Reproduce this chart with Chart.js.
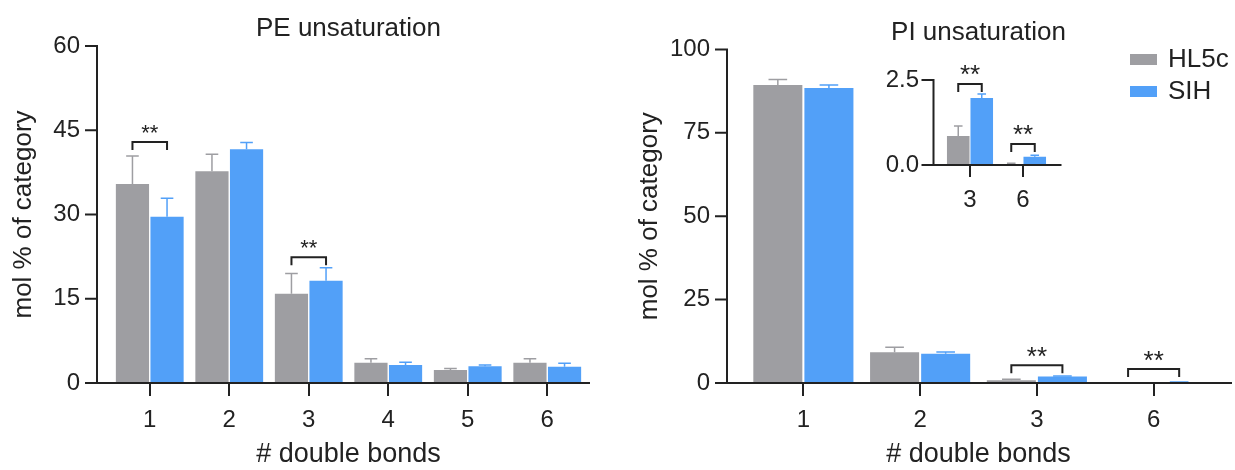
<!DOCTYPE html>
<html>
<head>
<meta charset="utf-8">
<script src="https://cdn.jsdelivr.net/npm/chart.js@4.4.1/dist/chart.umd.min.js"></script>
<style>
  body { margin: 0; background: #fff; }
  #wrap { position: relative; width: 1235px; height: 470px; overflow: hidden; }
  canvas { position: absolute; }
</style>
</head>
<body>
<div id="wrap">
  <canvas id="pe" width="615" height="470" style="left:0;top:0"></canvas>
  <canvas id="pi" width="620" height="470" style="left:615px;top:0"></canvas>
  <canvas id="inset" width="220" height="190" style="left:860px;top:40px"></canvas>
</div>
<script>
// PE unsaturation
const peLabels = ['1', '2', '3', '4', '5', '6'];
const peHL5c = [35.4, 37.7, 15.9, 3.6, 2.3, 3.6];
const peHL5cErr = [5.0, 3.0, 3.6, 0.7, 0.3, 0.7];
const peSIH = [29.6, 41.6, 18.2, 3.2, 3.0, 2.9];
const peSIHErr = [3.3, 1.2, 2.3, 0.5, 0.2, 0.6];
const peTicks = [0, 15, 30, 45, 60];
const peSigLabels = ['1', '3'];
const peSigLevels = [42.9, 22.4];

// PI unsaturation
const piLabels = ['1', '2', '3', '6'];
const piHL5c = [89.3, 9.2, 0.85, 0.03];
const piHL5cErr = [1.7, 1.5, 0.3, 0.02];
const piSIH = [88.4, 8.8, 1.97, 0.24];
const piSIHErr = [0.9, 0.5, 0.12, 0.05];
const piTicks = [0, 25, 50, 75, 100];
const piSigLabels = ['3', '6'];
const piSigLevels = [5.3, 4.2];

// inset (zoom on 3 and 6)
const insetLabels = ['3', '6'];
const insetTicks = [0, 2.5];
const insetSigLevels = [2.38, 0.62];

const GRAY = '#9e9ea2';
const BLUE = '#52a0f8';
const INK = '#222';
const FONT = '"Liberation Sans", Arial, sans-serif';

Chart.defaults.font.family = FONT;
Chart.defaults.color = INK;

// axis lines, error bars, significance brackets, legend
const marks = {
  id: 'marks',
  afterDatasetsDraw(chart, args, o) {
    const {ctx, chartArea: a, scales: {x, y}} = chart;
    const ax = a.left - o.gapLeft;
    const y0 = y.getPixelForValue(0);
    ctx.save();

    // error bars (upper only)
    chart.data.datasets.forEach((ds, i) => {
      ctx.strokeStyle = ds.backgroundColor;
      ctx.lineWidth = 1.5;
      chart.getDatasetMeta(i).data.forEach((bar, j) => {
        const top = y.getPixelForValue(ds.data[j] + ds.errors[j]);
        const cap = bar.width * 0.38;
        ctx.beginPath();
        ctx.moveTo(bar.x, bar.y);
        ctx.lineTo(bar.x, top);
        ctx.moveTo(bar.x - cap / 2, top);
        ctx.lineTo(bar.x + cap / 2, top);
        ctx.stroke();
      });
    });

    // axes
    ctx.strokeStyle = INK;
    ctx.lineWidth = 2;
    ctx.beginPath();
    ctx.moveTo(ax, y.getPixelForValue(y.max) - 1);
    ctx.lineTo(ax, y0);
    ctx.moveTo(ax, y0);
    ctx.lineTo(a.right + o.extendRight, y0);
    y.ticks.forEach(t => {
      const py = y.getPixelForValue(t.value);
      ctx.moveTo(ax - o.tickLen, py);
      ctx.lineTo(ax + 1, py);
    });
    ctx.stroke();

    // brackets + stars
    o.sigLabels.forEach((lab, k) => {
      const j = chart.data.labels.indexOf(lab);
      const b0 = chart.getDatasetMeta(0).data[j];
      const b1 = chart.getDatasetMeta(1).data[j];
      const py = y.getPixelForValue(o.sigLevels[k]);
      ctx.strokeStyle = INK;
      ctx.lineWidth = 2;
      ctx.beginPath();
      ctx.moveTo(b0.x, py + o.legLen);
      ctx.lineTo(b0.x, py);
      ctx.lineTo(b1.x, py);
      ctx.lineTo(b1.x, py + o.legLen);
      ctx.stroke();
      ctx.fillStyle = INK;
      ctx.font = o.starSize + 'px ' + FONT;
      ctx.textAlign = 'center';
      ctx.textBaseline = 'alphabetic';
      ctx.fillText('**', (b0.x + b1.x) / 2, py - o.starGap + o.starSize * 0.58);
    });

    // legend
    if (o.legend) {
      ctx.font = '26px ' + FONT;
      ctx.textAlign = 'left';
      ctx.textBaseline = 'middle';
      chart.data.datasets.forEach((ds, i) => {
        const cy = o.legend.y[i];
        ctx.fillStyle = ds.backgroundColor;
        ctx.fillRect(o.legend.x, cy - 5.5, 27, 11);
        ctx.fillStyle = INK;
        ctx.fillText(ds.label, o.legend.x + 38, cy);
      });
    }
    ctx.restore();
  }
};

function barChart(id, p) {
  const ds = (label, data, errors, color) => ({
    label, data, errors,
    backgroundColor: color,
    categoryPercentage: p.catPct,
    barPercentage: p.barPct
  });
  return new Chart(document.getElementById(id), {
    type: 'bar',
    data: {
      labels: p.labels,
      datasets: [
        ds('HL5c', p.hl5c, p.hl5cErr, GRAY),
        ds('SIH', p.sih, p.sihErr, BLUE)
      ]
    },
    options: {
      responsive: false,
      animation: false,
      layout: { padding: p.padding },
      plugins: {
        legend: { display: false },
        tooltip: { enabled: false },
        title: {
          display: !!p.title,
          text: p.title,
          fullSize: false,
          color: INK,
          font: { size: 26, weight: 'normal', lineHeight: 1.15 },
          padding: { top: 14, bottom: 2 }
        },
        marks: p.marks
      },
      scales: {
        x: {
          grid: { display: true, offset: false, drawOnChartArea: false, drawTicks: true,
                  tickLength: p.xTickLen, color: INK, lineWidth: 2 },
          border: { display: false },
          ticks: { font: { size: 24 }, color: INK, padding: p.xPad },
          title: p.xTitle
            ? { display: true, text: p.xTitle, color: INK, font: { size: 27, lineHeight: 1.1 }, padding: { top: 0, bottom: 1 } }
            : { display: false },
          afterFit: s => { s.height = p.xHeight; }
        },
        y: {
          min: 0,
          max: p.ticks[p.ticks.length - 1],
          grid: { display: false, drawTicks: false },
          border: { display: false },
          ticks: { font: { size: 24 }, color: INK, padding: p.yPad, callback: p.fmt || (v => v) },
          afterBuildTicks: s => { s.ticks = p.ticks.map(v => ({ value: v })); },
          title: p.yTitle
            ? { display: true, text: p.yTitle, color: INK, font: { size: 26 }, padding: { top: p.yTitlePad, bottom: 0 } }
            : { display: false },
          afterFit: s => { s.width = p.yWidth; }
        }
      }
    },
    plugins: [marks]
  });
}

barChart('pe', {
  labels: peLabels, hl5c: peHL5c, hl5cErr: peHL5cErr, sih: peSIH, sihErr: peSIHErr,
  ticks: peTicks, title: 'PE unsaturation', xTitle: '# double bonds', yTitle: 'mol % of category',
  catPct: 0.87, barPct: 0.96,
  padding: { left: 0, right: 28, top: 0, bottom: 0 },
  yWidth: 110, yPad: 30, yTitlePad: 8, xHeight: 87, xTickLen: 13, xPad: 10,
  marks: { gapLeft: 13, extendRight: 3, tickLen: 12, sigLabels: peSigLabels, sigLevels: peSigLevels,
           legLen: 8, starGap: 15, starSize: 22 }
});

barChart('pi', {
  labels: piLabels, hl5c: piHL5c, hl5cErr: piHL5cErr, sih: piSIH, sihErr: piSIHErr,
  ticks: piTicks, title: 'PI unsaturation', xTitle: '# double bonds', yTitle: 'mol % of category',
  catPct: 0.875, barPct: 0.96,
  padding: { left: 0, right: 23, top: 0, bottom: 0 },
  yWidth: 130, yPad: 35, yTitlePad: 19, xHeight: 87, xTickLen: 13, xPad: 10,
  marks: { gapLeft: 18, extendRight: 20, tickLen: 12, sigLabels: piSigLabels, sigLevels: piSigLevels,
           legLen: 8, starGap: 15, starSize: 26, legend: { x: 515, y: [59.5, 91.5] } }
});

const pick = arr => insetLabels.map(l => arr[piLabels.indexOf(l)]);
barChart('inset', {
  labels: insetLabels, hl5c: pick(piHL5c), hl5cErr: pick(piHL5cErr), sih: pick(piSIH), sihErr: pick(piSIHErr),
  ticks: insetTicks, fmt: v => v.toFixed(1),
  catPct: 0.887, barPct: 0.96,
  padding: { left: 0, right: 30.5, top: 40, bottom: 0 },
  yWidth: 83.5, yPad: 24.5, xHeight: 65, xTickLen: 12, xPad: 9,
  marks: { gapLeft: 10, extendRight: 12, tickLen: 12, sigLabels: insetLabels, sigLevels: insetSigLevels,
           legLen: 8, starGap: 16, starSize: 26 }
});
</script>
</body>
</html>
